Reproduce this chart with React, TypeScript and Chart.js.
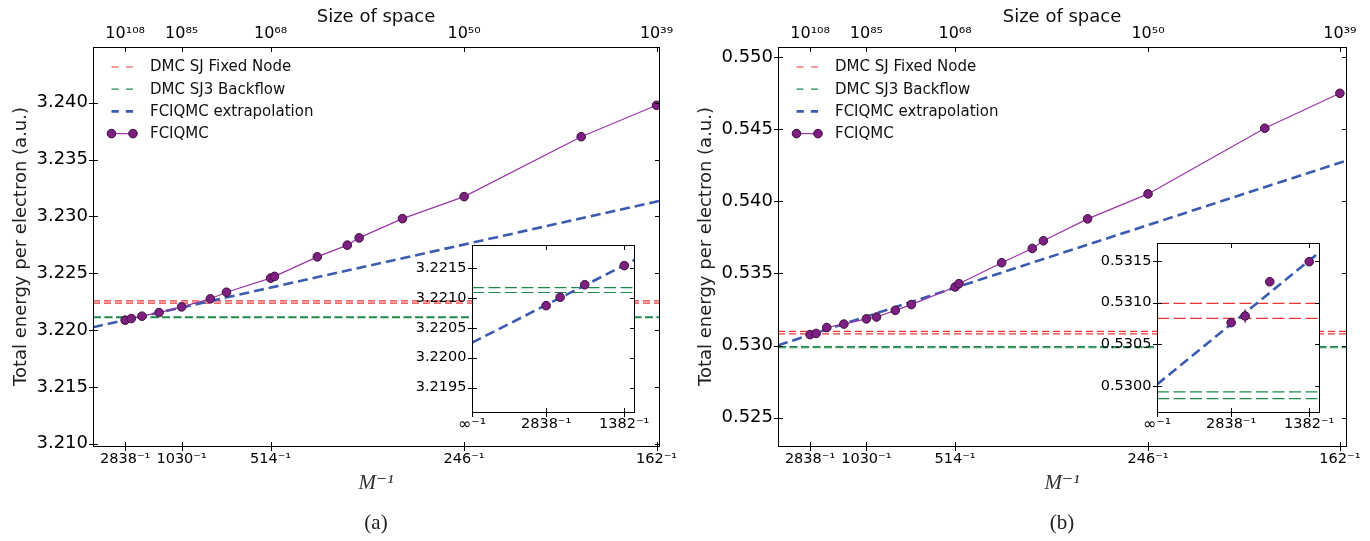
import React, { useEffect, useRef } from "react";
import { Chart, registerables } from "chart.js";

Chart.register(...registerables);

const SANS = '"DejaVu Sans", sans-serif';
const SERIF = '"Liberation Serif", "DejaVu Serif", serif';

// ---------- shared tick labels ----------
const mainTickM = [2838, 1030, 514, 246, 162];
const mainBottomLabels = ["2838⁻¹", "1030⁻¹", "514⁻¹", "246⁻¹", "162⁻¹"];
const mainTopLabels = ["10¹⁰⁸", "10⁸⁵", "10⁶⁸", "10⁵⁰", "10³⁹"];
const insetTickM = [Infinity, 2838, 1382];
const insetTickLabels = ["∞⁻¹", "2838⁻¹", "1382⁻¹"];
const legendLabels = ["DMC SJ Fixed Node", "DMC SJ3 Backflow", "FCIQMC extrapolation", "FCIQMC"];
const insetXMax = 0.00077;

// ---------- panel (a) ----------
const mA = [2838, 2387, 1866, 1382, 1030, 778, 684, 514, 503, 407, 359, 343, 295, 246, 187, 162];
const eA = [3.22087, 3.22101, 3.22122, 3.22154, 3.22204, 3.22275, 3.22333, 3.22457, 3.22472, 3.22644, 3.22747, 3.22811, 3.2298, 3.23174, 3.23701, 3.23977];
const errA = [0.00001, 0.00001, 0.00001, 0.00001];
const dmcFixedA = [3.22257, 3.22237];
const dmcBackflowA = [3.22117, 3.22109];
const extrapXA = [0, 0.0062];
const extrapYA = [3.22025, 3.23135];
const yTicksA = [3.21, 3.215, 3.22, 3.225, 3.23, 3.235, 3.24];
const yRangeA = [3.2098, 3.2449];
const xMaxA = 0.0062;
const insetYTicksA = [3.2195, 3.22, 3.2205, 3.221, 3.2215];
const insetYRangeA = [3.21909, 3.22188];

// ---------- panel (b) ----------
const mB = [2838, 2387, 1866, 1382, 1030, 924, 776, 683, 514, 503, 407, 358, 343, 294, 246, 187, 162];
const eB = [0.53076, 0.53084, 0.53125, 0.53149, 0.53185, 0.53198, 0.53244, 0.53284, 0.53406, 0.53429, 0.53574, 0.53673, 0.53726, 0.53878, 0.54051, 0.54506, 0.54748];
const errB = [0.00002, 0.00008, 0.00002, 0.00002];
const dmcFixedB = [0.53099, 0.53081];
const dmcBackflowB = [0.52993, 0.52985];
const extrapXB = [0, 0.00624];
const extrapYB = [0.53002, 0.54281];
const yTicksB = [0.525, 0.53, 0.535, 0.54, 0.545, 0.55];
const yRangeB = [0.52304, 0.55069];
const xMaxB = 0.00624;
const insetYTicksB = [0.53, 0.5305, 0.531, 0.5315];
const insetYRangeB = [0.52969, 0.53171];

// ---------- colours ----------
const RED = "#f03535";
const GREEN = "#1f8a4c";
const BLUE = "#3b5bb0";
const PURPLE = "#9b34a8";
const MARKER = "#7e2082";
const MARKER_EDGE = "#3a0e3c";

Chart.defaults.font.family = SANS;

const frameTicks = {
  id: "frameTicks",
  beforeDraw(chart: any, _a: any, opts: any) {
    if (!opts.fill) return;
    const { ctx, chartArea: a } = chart;
    ctx.save();
    ctx.fillStyle = "#fff";
    ctx.fillRect(a.left, a.top, a.right - a.left, a.bottom - a.top);
    ctx.restore();
  },
  afterDraw(chart: any, _a: any, opts: any) {
    const { ctx, chartArea: a } = chart;
    const L = opts.len ?? 4.5;
    const left = Math.round(a.left) + 0.5;
    const right = Math.round(a.right) + 0.5;
    const top = Math.round(a.top) + 0.5;
    const bottom = Math.round(a.bottom) + 0.5;
    ctx.save();
    ctx.strokeStyle = "#000";
    ctx.lineWidth = 1;
    ctx.strokeRect(left, top, right - left, bottom - top);
    const line = (x0: number, y0: number, x1: number, y1: number) => {
      ctx.beginPath();
      ctx.moveTo(x0, y0);
      ctx.lineTo(x1, y1);
      ctx.stroke();
    };
    const xs = chart.scales.x;
    const ys = chart.scales.y;
    xs.ticks.forEach((t: any) => {
      const px = Math.round(xs.getPixelForValue(t.value)) + 0.5;
      line(px, bottom - L, px, bottom + L);
      line(px, top, px, top + L);
    });
    ys.ticks.forEach((t: any) => {
      const py = Math.round(ys.getPixelForValue(t.value)) + 0.5;
      line(left - L, py, left + L, py);
      line(right - L, py, right, py);
    });
    ctx.restore();
  },
};

// vertical error bars for the FCIQMC points (dataset 0), drawn under the markers
const errorBars = {
  id: "errorBars",
  beforeDatasetsDraw(chart: any, _a: any, opts: any) {
    const errs: number[] | undefined = opts.errors;
    if (!errs) return;
    const { ctx } = chart;
    const ys = chart.scales.y;
    const meta = chart.getDatasetMeta(0);
    const data = chart.data.datasets[0].data;
    ctx.save();
    ctx.strokeStyle = PURPLE;
    ctx.lineWidth = 1.5;
    meta.data.forEach((el: any, i: number) => {
      if (errs[i] === undefined) return;
      const v = data[i].y;
      const y0 = ys.getPixelForValue(v - errs[i]);
      const y1 = ys.getPixelForValue(v + errs[i]);
      ctx.beginPath();
      ctx.moveTo(el.x, y0);
      ctx.lineTo(el.x, y1);
      ctx.stroke();
    });
    ctx.restore();
  },
};

const dashLegend = {
  id: "dashLegend",
  afterDraw(chart: any, _a: any, opts: any) {
    if (!opts.show) return;
    const { ctx, chartArea: a } = chart;
    const x0 = a.left + 18.5;
    const x1 = a.left + 40;
    const tx = a.left + 57;
    const styles = [
      { color: RED, width: 1.2, dash: [7, 7.5] },
      { color: GREEN, width: 1.2, dash: [7, 7.5] },
      { color: BLUE, width: 2.6, dash: [7.3, 7] },
      null,
    ];
    ctx.save();
    legendLabels.forEach((label, i) => {
      const y = a.top + 20 + i * 22.2;
      const s = styles[i];
      if (s) {
        ctx.strokeStyle = s.color;
        ctx.lineWidth = s.width;
        ctx.setLineDash(s.dash);
        ctx.beginPath();
        ctx.moveTo(x0, y);
        ctx.lineTo(x1, y);
        ctx.stroke();
        ctx.setLineDash([]);
      } else {
        ctx.strokeStyle = PURPLE;
        ctx.lineWidth = 1.2;
        ctx.beginPath();
        ctx.moveTo(x0, y);
        ctx.lineTo(x1, y);
        ctx.stroke();
        [x0, x1].forEach((x) => {
          ctx.beginPath();
          ctx.arc(x, y, 4.3, 0, Math.PI * 2);
          ctx.fillStyle = MARKER;
          ctx.fill();
          ctx.strokeStyle = MARKER_EDGE;
          ctx.lineWidth = 1;
          ctx.stroke();
        });
      }
      ctx.fillStyle = "#111";
      ctx.font = `15px ${SANS}`;
      ctx.textBaseline = "middle";
      ctx.textAlign = "left";
      ctx.fillText(label, tx, y + 0.5);
    });
    ctx.restore();
  },
};

type PanelData = {
  m: number[];
  e: number[];
  err: number[];
  fixed: number[];
  back: number[];
  exX: number[];
  exY: number[];
  xMax: number;
  yTicks: number[];
  yRange: number[];
  insetYTicks: number[];
  insetYRange: number[];
  padRight: number;
};

function seriesDatasets(p: PanelData, xMax: number, inset: boolean) {
  const n = inset ? 4 : p.m.length;
  const pts = p.m.slice(0, n).map((M, i) => ({ x: 1 / M, y: p.e[i] }));
  const hline = (v: number) => [
    { x: 0, y: v },
    { x: xMax, y: v },
  ];
  const hDash = inset ? [12, 4.5] : null;
  return [
    {
      label: legendLabels[3],
      data: pts,
      showLine: !inset,
      borderColor: PURPLE,
      borderWidth: 1.2,
      pointRadius: 4.3,
      pointBackgroundColor: MARKER,
      pointBorderColor: MARKER_EDGE,
      pointBorderWidth: 1,
      tension: 0,
    },
    {
      label: legendLabels[2],
      data: p.exX.map((x, i) => ({ x, y: p.exY[i] })),
      borderColor: BLUE,
      borderWidth: 2.6,
      borderDash: [10, 5],
      pointRadius: 0,
    },
    ...p.back.map((v) => ({
      label: legendLabels[1],
      data: hline(v),
      borderColor: GREEN,
      borderWidth: 1.2,
      borderDash: hDash || [8, 3.5],
      pointRadius: 0,
    })),
    ...p.fixed.map((v) => ({
      label: legendLabels[0],
      data: hline(v),
      borderColor: RED,
      borderWidth: 1.2,
      borderDash: hDash || [7, 4],
      pointRadius: 0,
    })),
  ];
}

function mainConfig(p: PanelData): any {
  const xTickHook = (s: any) => {
    s.ticks = mainTickM.map((M) => ({ value: 1 / M }));
  };
  return {
    type: "line",
    data: { datasets: seriesDatasets(p, p.xMax, false) },
    plugins: [frameTicks, dashLegend],
    options: {
      responsive: false,
      animation: false,
      events: [],
      layout: { padding: { left: 0, top: 0, bottom: 0, right: p.padRight }, autoPadding: false },
      plugins: {
        legend: { display: false },
        tooltip: { enabled: false },
        frameTicks: { len: 4.5 },
        dashLegend: { show: true },
      },
      scales: {
        x: {
          type: "linear",
          position: "bottom",
          min: 0,
          max: p.xMax,
          grid: { display: false, drawTicks: false },
          border: { display: false },
          afterBuildTicks: xTickHook,
          afterFit: (s: any) => {
            s.height = 95;
          },
          ticks: {
            autoSkip: false,
            maxRotation: 0,
            padding: 4.3,
            color: "#000",
            font: { family: SANS, size: 14.5 },
            callback: (_v: any, i: number) => mainBottomLabels[i],
          },
          title: {
            display: true,
            text: "M⁻¹",
            color: "#333",
            font: { family: SERIF, size: 21, style: "italic" },
            padding: { top: 0, bottom: 45 },
          },
        },
        x2: {
          type: "linear",
          position: "top",
          min: 0,
          max: p.xMax,
          grid: { display: false, drawTicks: false },
          border: { display: false },
          afterBuildTicks: xTickHook,
          afterFit: (s: any) => {
            s.height = 47;
          },
          ticks: {
            autoSkip: false,
            maxRotation: 0,
            padding: 4,
            color: "#000",
            font: { family: SANS, size: 16 },
            callback: (_v: any, i: number) => mainTopLabels[i],
          },
          title: {
            display: true,
            text: "Size of space",
            color: "#111",
            font: { family: SANS, size: 18 },
            padding: { top: 6.5, bottom: 0 },
          },
        },
        y: {
          type: "linear",
          position: "left",
          min: p.yRange[0],
          max: p.yRange[1],
          grid: { display: false, drawTicks: false },
          border: { display: false },
          afterBuildTicks: (s: any) => {
            s.ticks = p.yTicks.map((v) => ({ value: v }));
          },
          afterFit: (s: any) => {
            s.width = 93;
          },
          ticks: {
            padding: 5,
            color: "#000",
            font: { family: SANS, size: 18 },
            callback: (v: any) => Number(v).toFixed(3),
          },
          title: {
            display: true,
            text: "Total energy per electron (a.u.)",
            color: "#222",
            font: { family: SANS, size: 18 },
            padding: { top: 11, bottom: 0 },
          },
        },
      },
    },
  };
}

function insetConfig(p: PanelData): any {
  return {
    type: "line",
    data: { datasets: seriesDatasets(p, insetXMax, true) },
    plugins: [frameTicks, errorBars],
    options: {
      responsive: false,
      animation: false,
      events: [],
      layout: { padding: { left: 0, top: 10, bottom: 0, right: 30 }, autoPadding: false },
      plugins: {
        legend: { display: false },
        tooltip: { enabled: false },
        frameTicks: { len: 4.5, fill: true },
        errorBars: { errors: p.err },
      },
      scales: {
        x: {
          type: "linear",
          position: "bottom",
          min: 0,
          max: insetXMax,
          grid: { display: false, drawTicks: false },
          border: { display: false },
          afterBuildTicks: (s: any) => {
            s.ticks = insetTickM.map((M) => ({ value: 1 / M }));
          },
          afterFit: (s: any) => {
            s.height = 35;
          },
          ticks: {
            autoSkip: false,
            maxRotation: 0,
            padding: 3.5,
            color: "#000",
            font: (c: any) => ({ family: SANS, size: c.index === 0 ? 16 : 14.5 }),
            callback: (_v: any, i: number) => insetTickLabels[i],
          },
        },
        y: {
          type: "linear",
          position: "left",
          min: p.insetYRange[0],
          max: p.insetYRange[1],
          grid: { display: false, drawTicks: false },
          border: { display: false },
          afterBuildTicks: (s: any) => {
            s.ticks = p.insetYTicks.map((v) => ({ value: v }));
          },
          afterFit: (s: any) => {
            s.width = 60;
          },
          ticks: {
            padding: 5.6,
            color: "#000",
            font: { family: SANS, size: 14.5 },
            callback: (v: any) => Number(v).toFixed(4),
          },
        },
      },
    },
  };
}

function ChartCanvas(props: { left: number; top: number; width: number; height: number; make: () => any }) {
  const ref = useRef<HTMLCanvasElement | null>(null);
  useEffect(() => {
    if (!ref.current) return;
    const chart = new Chart(ref.current, props.make());
    return () => chart.destroy();
  }, []);
  return (
    <canvas
      ref={ref}
      width={props.width}
      height={props.height}
      style={{ position: "absolute", left: props.left, top: props.top, width: props.width, height: props.height }}
    />
  );
}

const panelA: PanelData = {
  m: mA,
  e: eA,
  err: errA,
  fixed: dmcFixedA,
  back: dmcBackflowA,
  exX: extrapXA,
  exY: extrapYA,
  xMax: xMaxA,
  yTicks: yTicksA,
  yRange: yRangeA,
  insetYTicks: insetYTicksA,
  insetYRange: insetYRangeA,
  padRight: 26,
};

const panelB: PanelData = {
  m: mB,
  e: eB,
  err: errB,
  fixed: dmcFixedB,
  back: dmcBackflowB,
  exX: extrapXB,
  exY: extrapYB,
  xMax: xMaxB,
  yTicks: yTicksB,
  yRange: yRangeB,
  insetYTicks: insetYTicksB,
  insetYRange: insetYRangeB,
  padRight: 24,
};

const captionStyle = (cx: number): React.CSSProperties => ({
  position: "absolute",
  left: cx - 50,
  top: 510,
  width: 100,
  textAlign: "center",
  fontFamily: SERIF,
  fontSize: 21,
  lineHeight: "24px",
  color: "#222",
});

export default function App() {
  return (
    <div
      style={{
        position: "absolute",
        left: 0,
        top: 0,
        width: 1370,
        height: 541,
        background: "#fff",
        overflow: "hidden",
      }}
    >
      <ChartCanvas left={0} top={0} width={685} height={541} make={() => mainConfig(panelA)} />
      <ChartCanvas left={685} top={0} width={685} height={541} make={() => mainConfig(panelB)} />
      <ChartCanvas left={412} top={231} width={252} height={216} make={() => insetConfig(panelA)} />
      <ChartCanvas left={1097} top={229} width={252} height={218} make={() => insetConfig(panelB)} />
      <div style={captionStyle(376)}>(a)</div>
      <div style={captionStyle(1062)}>(b)</div>
    </div>
  );
}
